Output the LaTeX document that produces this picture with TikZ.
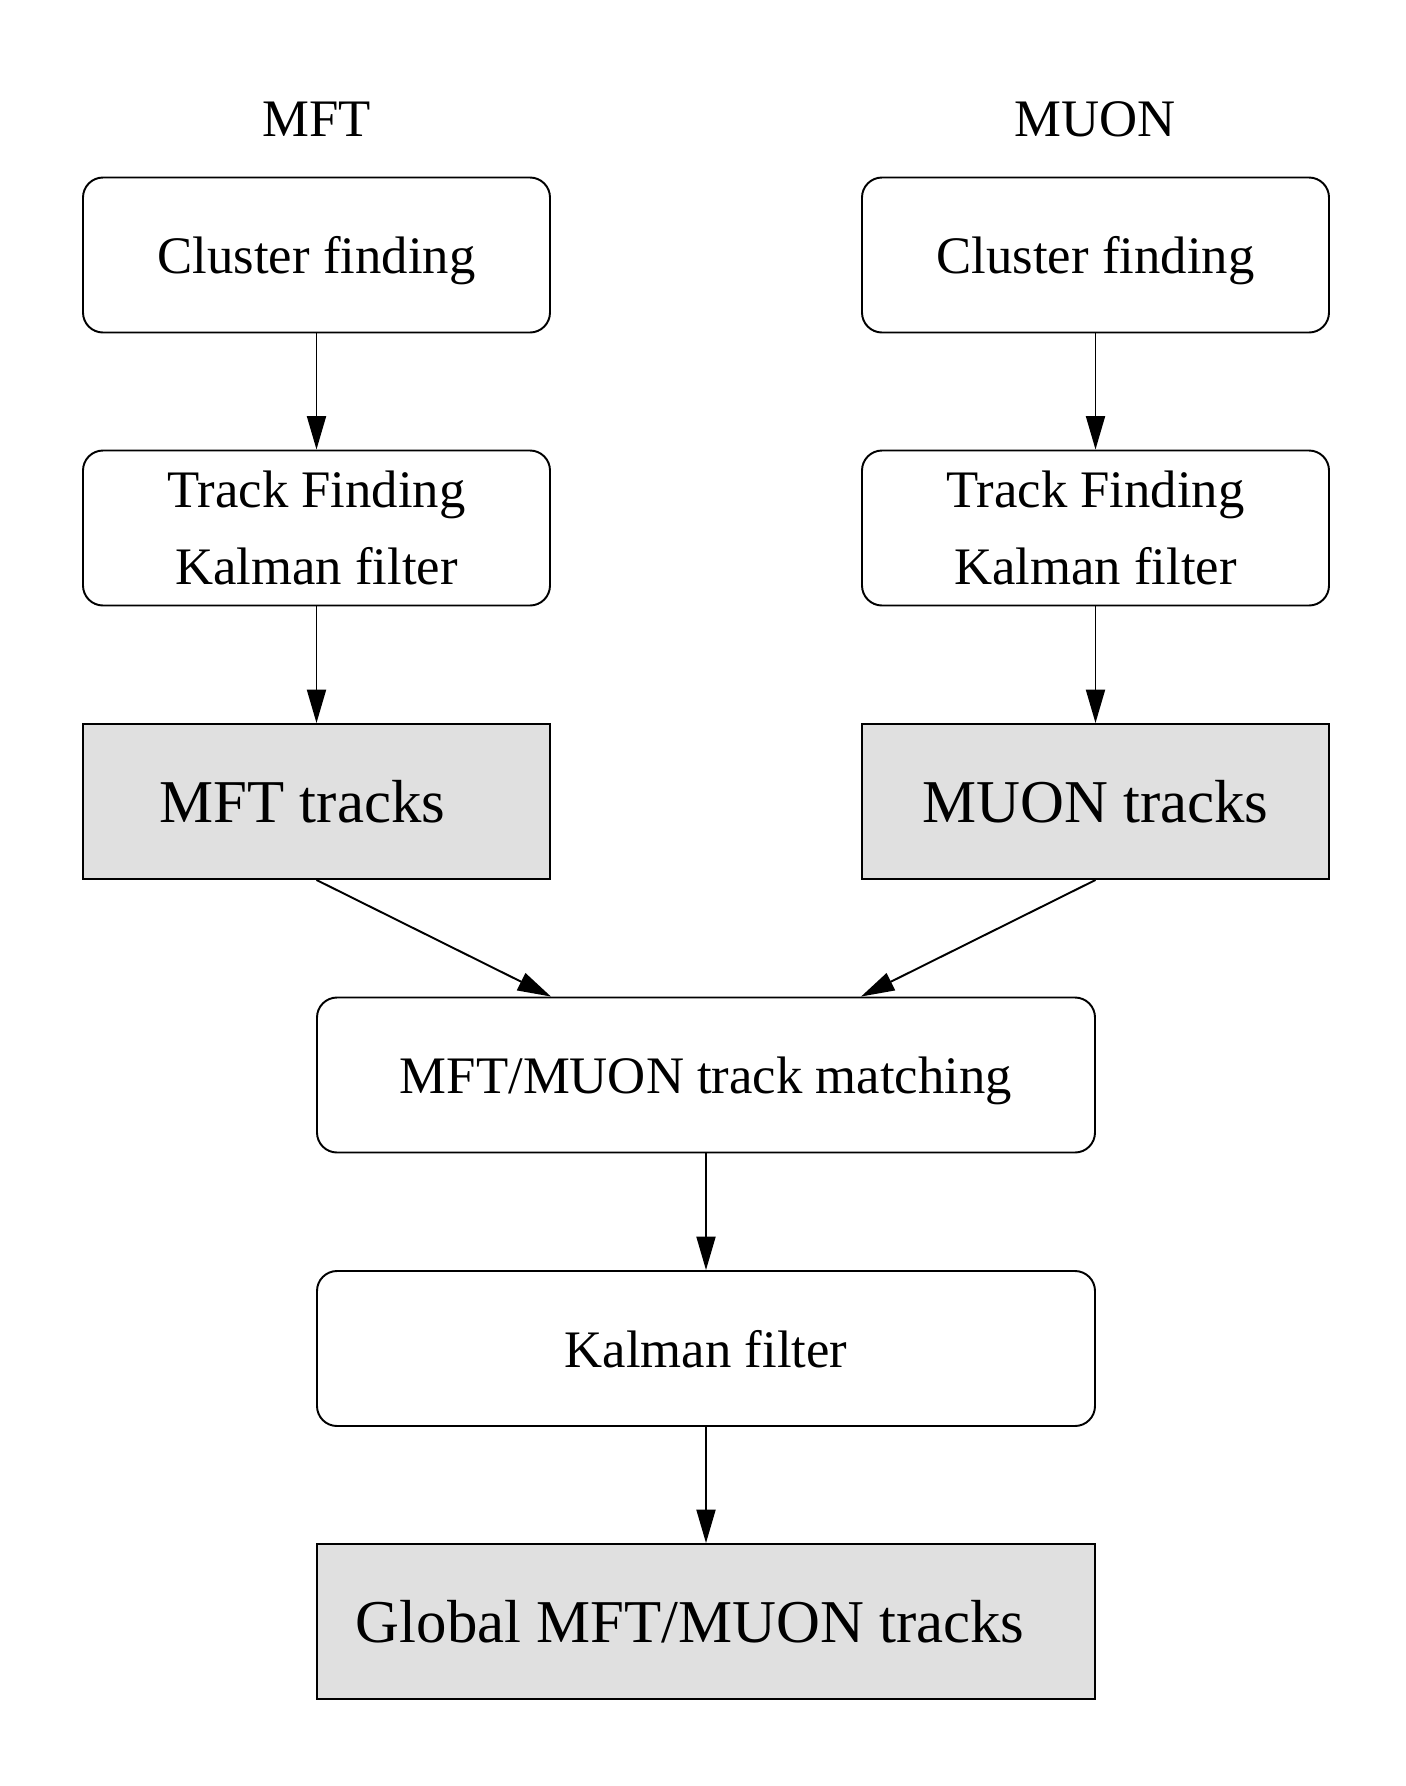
\documentclass[tikz,border=0pt]{standalone}
\usepackage{fontspec}
\setmainfont{Liberation Serif}
\usepackage{xcolor}
\usetikzlibrary{arrows.meta}

\definecolor{boxgray}{gray}{0.88}

\begin{document}
\begin{tikzpicture}[
    stage/.style={draw, line width=0.55pt, rounded corners=0.2cm, minimum width=4.67cm, minimum height=1.55cm, align=center, text depth=0pt, font=\fontsize{15}{22}\selectfont},
    result/.style={draw, line width=0.55pt, fill=boxgray, minimum width=4.67cm, minimum height=1.55cm, text depth=0pt, font=\fontsize{17.3}{21}\selectfont},
    wide/.style={minimum width=7.78cm},
    >={Triangle[length=9.5pt,width=5.4pt]}]
\useasboundingbox (0,0) rectangle (14.06,-17.86);

% Two detector columns
\foreach \x/\name/\lbl/\pad in {3.165/mft/MFT/8pt, 10.955/muon/MUON/0pt} {
    \node[font=\fontsize{15}{18}\selectfont] (\name title) at (\x,-1.19) {\lbl};
    \node[stage] (\name clus) at (\x,-2.55) {Cluster finding};
    \node[stage] (\name track) at (\x,-5.28) {Track Finding\\Kalman filter};
    \node[result] (\name tracks) at (\x,-8.015) {\lbl\ tracks\hspace*{\pad}};
    \draw[->, line width=0.55pt] (\name clus) -- (\name track);
    \draw[->, line width=0.55pt] (\name track) -- (\name tracks);
}

% Matching and global fit
\node[stage, wide] (match) at (7.06,-10.75) {MFT/MUON track matching};
\node[stage, wide] (kalman) at (7.06,-13.485) {Kalman filter};
\node[result, wide] (global) at (7.06,-16.215) {Global MFT/MUON tracks\hspace*{9pt}};

\draw[->, line width=0.55pt] (mfttracks.south) -- (match.north -| mfttracks.east);
\draw[->, line width=0.55pt] (muontracks.south) -- (match.north -| muontracks.west);
\draw[->, line width=0.55pt] (match) -- (kalman);
\draw[->, line width=0.55pt] (kalman) -- (global);
\end{tikzpicture}
\end{document}
